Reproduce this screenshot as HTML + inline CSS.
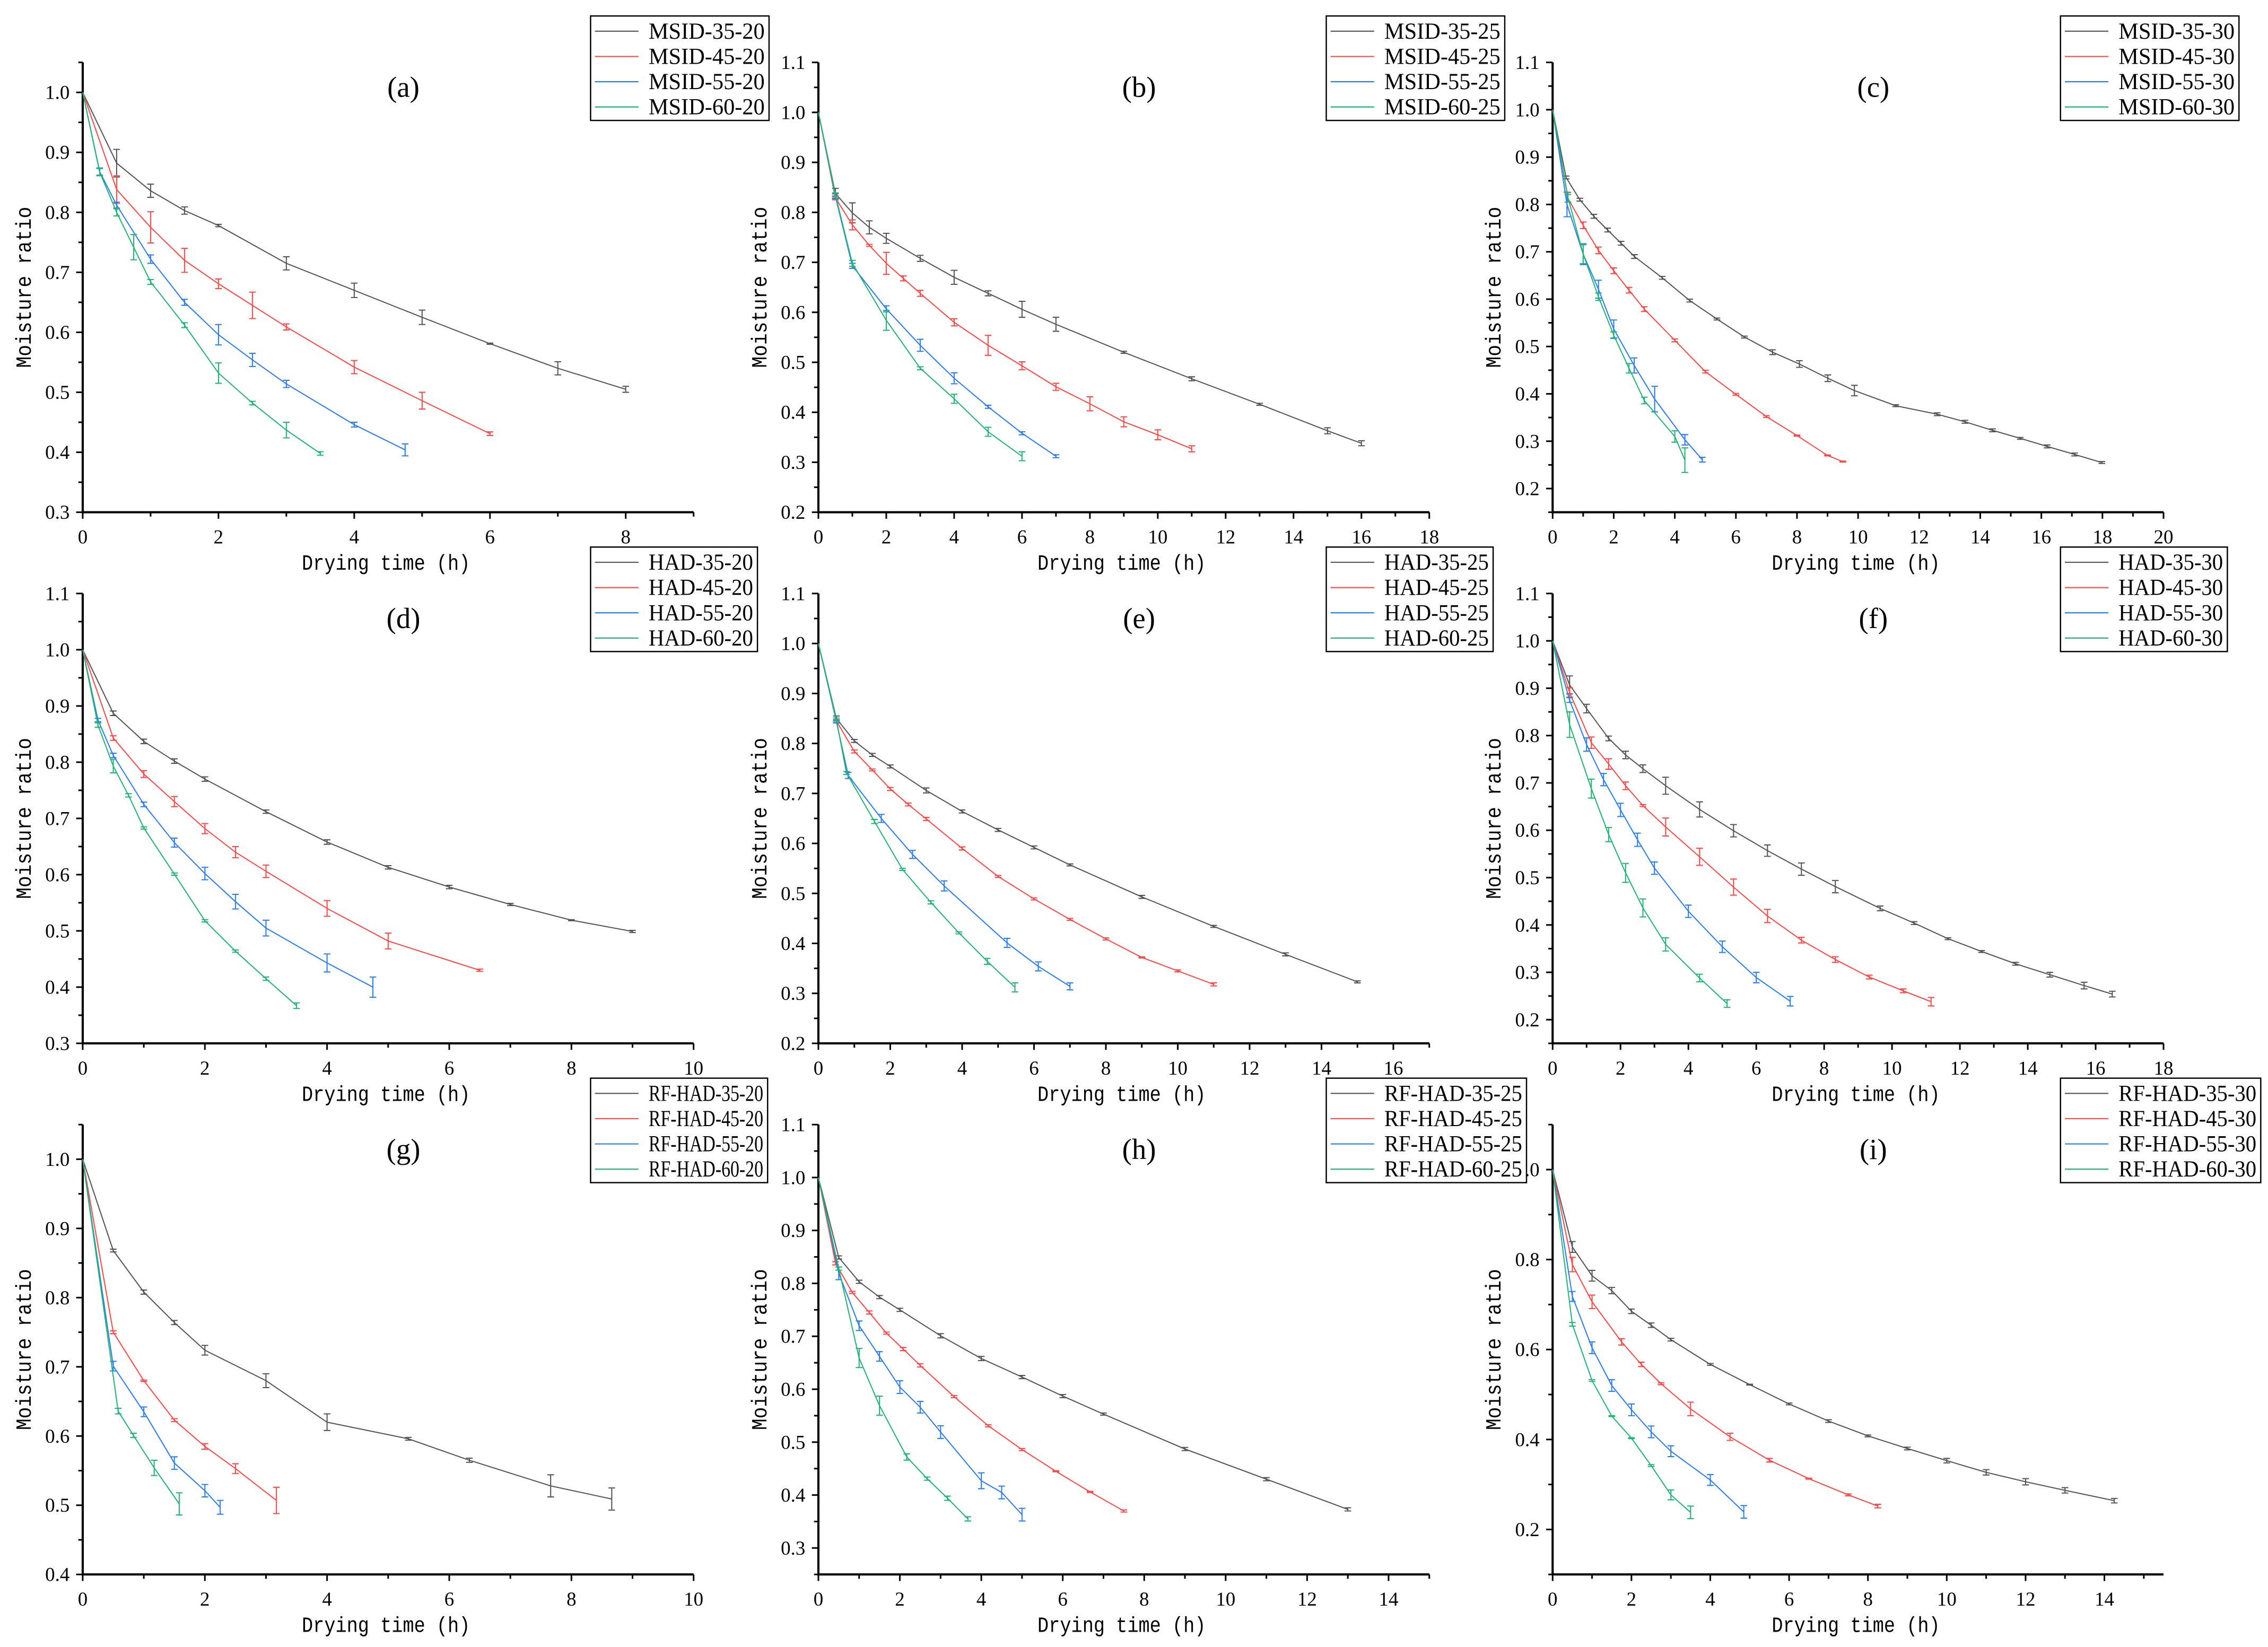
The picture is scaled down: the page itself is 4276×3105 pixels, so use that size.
<!DOCTYPE html>
<html><head><meta charset="utf-8">
<style>
html,body{margin:0;padding:0;background:#fff;}
svg{display:block;}
text{font-family:"Liberation Serif","Noto Serif CJK SC",serif;fill:#000;}
text.mono{font-family:"Liberation Mono","Noto Sans CJK SC",monospace;}
</style></head>
<body>
<svg id="chart" xmlns="http://www.w3.org/2000/svg" width="4276" height="3105" viewBox="0 0 1563 1135" preserveAspectRatio="none">
<rect x="0" y="0" width="1563" height="1135" fill="#fff"/>
</svg>
<script>
// ---- data (drying time h, moisture ratio, error half-width) ----
const aTime=[[0,0.5,1,1.5,2,3,4,5,6,7,8],[0,0.5,1,1.5,2,2.5,3,4,5,6],[0,0.25,0.5,1,1.5,2,2.5,3,4,4.75],[0,0.25,0.5,0.75,1,1.5,2,2.5,3,3.5]];
const aMR=[[1,0.882,0.836,0.803,0.778,0.715,0.67,0.625,0.581,0.54,0.505],[1,0.838,0.775,0.72,0.681,0.645,0.609,0.542,0.486,0.431],[1,0.868,0.812,0.722,0.65,0.596,0.554,0.514,0.446,0.404],[1,0.867,0.8,0.742,0.684,0.612,0.532,0.482,0.437,0.398]];
const aErr=[[0,.023,.011,.006,.002,.011,.012,.012,.001,.011,.005],[0,.023,.026,.02,.008,.022,.005,.011,.014,.003],[0,.006,.005,.007,.005,.017,.011,.006,.004,.01],[0,.006,.006,.021,.004,.004,.017,.003,.013,.003]];

const bTime=[[0,0.5,1,1.5,2,3,4,5,6,7,9,11,13,15,16],[0,0.5,1,1.5,2,2.5,3,4,5,6,7,8,9,10,11],[0,0.5,1,2,3,4,5,6,7],[0,0.5,1,2,3,4,5,6]];
const bMR=[[1,0.838,0.799,0.770,0.748,0.708,0.670,0.638,0.606,0.576,0.52,0.467,0.416,0.363,0.338],[1,0.829,0.775,0.734,0.698,0.668,0.638,0.580,0.534,0.493,0.451,0.417,0.381,0.355,0.327],[1,0.832,0.693,0.607,0.534,0.468,0.411,0.358,0.312],[1,0.835,0.698,0.584,0.488,0.427,0.361,0.312]];
const bErr=[[0,.01,.02,.013,.01,.006,.014,.005,.016,.014,.002,.004,.002,.006,.005],[0,.004,.01,.002,.022,.005,.006,.007,.02,.008,.007,.014,.01,.01,.006],[0,.005,.005,.006,.012,.011,.003,.003,.003],[0,.004,.006,.02,.003,.009,.009,.009]];

const cTime=[[0,0.44,0.89,1.35,1.8,2.24,2.68,3.59,4.49,5.38,6.28,7.2,8.08,9.01,9.88,11.23,12.59,13.5,14.4,15.31,16.19,17.09,17.98],[0,0.5,1,1.5,2,2.5,3,4,5,6,7,8,9,9.5],[0,0.47,1,1.5,2,2.67,3.34,4.33,4.9],[0,0.5,1,1.5,2,2.5,3,4,4.33]];
const cMR=[[1,0.857,0.81,0.775,0.746,0.718,0.69,0.645,0.597,0.558,0.52,0.488,0.463,0.433,0.407,0.375,0.357,0.341,0.323,0.306,0.289,0.272,0.255],[1,0.813,0.756,0.703,0.66,0.619,0.579,0.513,0.447,0.399,0.352,0.312,0.27,0.257],[1,0.80,0.695,0.621,0.537,0.46,0.389,0.303,0.261],[1,0.815,0.695,0.605,0.524,0.454,0.386,0.31,0.26]];
const cErr=[[0,.003,.003,.004,.004,.004,.004,.003,.003,.002,.002,.005,.007,.007,.011,.002,.003,.003,.003,.002,.003,.003,.002],[0,.008,.007,.007,.006,.006,.005,.003,.003,.002,.002,.001,.001,.001],[0,.026,.022,.019,.019,.016,.027,.011,.005],[0,.01,.02,.008,.007,.01,.007,.012,.026]];

const dTime=[[0,0.5,1,1.5,2,3,4,5,6,7,8,9],[0,0.5,1,1.5,2,2.5,3,4,5,6.5],[0,0.25,0.5,1,1.5,2,2.5,3,4,4.75],[0,0.25,0.5,0.75,1,1.5,2,2.5,3,3.5]];
const dMR=[[1,0.887,0.837,0.802,0.77,0.712,0.658,0.613,0.578,0.547,0.519,0.499],[1,0.843,0.779,0.73,0.682,0.64,0.606,0.54,0.482,0.43],[1,0.875,0.812,0.725,0.657,0.602,0.552,0.505,0.443,0.40],[1,0.866,0.793,0.741,0.683,0.601,0.518,0.464,0.415,0.367]];
const dErr=[[0,.004,.004,.004,.004,.003,.004,.003,.003,.002,.001,.002],[0,.004,.006,.009,.009,.01,.011,.014,.014,.002],[0,.003,.004,.004,.008,.011,.013,.014,.016,.018],[0,.004,.012,.003,.002,.002,.002,.002,.003,.005]];

const eTime=[[0,0.5,1,1.5,2,3,4,5,6,7,9,11,13,15],[0,0.5,1,1.5,2,2.5,3,4,5,6,7,8,9,10,11],[0,0.5,0.83,1.75,2.62,3.5,5.25,6.12,7],[0,0.5,0.78,1.56,2.34,3.13,3.91,4.7,5.47]];
const eMR=[[1,0.85,0.805,0.777,0.754,0.706,0.664,0.627,0.592,0.557,0.493,0.434,0.378,0.323],[1,0.845,0.784,0.747,0.709,0.678,0.649,0.59,0.534,0.489,0.448,0.409,0.372,0.345,0.318],[1,0.844,0.736,0.65,0.578,0.515,0.401,0.354,0.314],[1,0.848,0.741,0.644,0.548,0.482,0.421,0.364,0.312]];
const eErr=[[0,.005,.003,.003,.003,.005,.003,.003,.003,.002,.003,.002,.003,.002],[0,.003,.003,.002,.003,.003,.003,.003,.002,.002,.002,.002,.001,.002,.003],[0,.003,.006,.008,.008,.01,.009,.009,.007],[0,.003,.003,.004,.002,.003,.002,.006,.009]];

const fTime=[[0,0.5,1,1.65,2.15,2.66,3.33,4.33,5.33,6.33,7.33,8.33,9.65,10.65,11.65,12.64,13.64,14.65,15.66,16.49],[0,0.5,1.14,1.65,2.15,2.66,3.33,4.33,5.33,6.33,7.33,8.33,9.33,10.33,11.15],[0,0.5,1,1.5,2,2.5,3,4,5,6,7],[0,0.5,1.14,1.65,2.15,2.66,3.33,4.33,5.14]];
const fMR=[[1,0.907,0.857,0.794,0.759,0.730,0.694,0.644,0.599,0.557,0.518,0.481,0.435,0.404,0.371,0.344,0.318,0.295,0.272,0.254],[1,0.891,0.785,0.740,0.694,0.652,0.607,0.544,0.48,0.419,0.368,0.327,0.29,0.261,0.238],[1,0.875,0.781,0.707,0.643,0.58,0.52,0.429,0.354,0.289,0.239],[1,0.823,0.688,0.591,0.51,0.436,0.359,0.288,0.234]];
const fErr=[[0,.019,.009,.005,.008,.008,.018,.016,.013,.012,.013,.013,.005,.003,.002,.002,.003,.005,.007,.006],[0,.01,.012,.011,.008,.002,.019,.018,.017,.014,.006,.006,.004,.004,.009],[0,.005,.014,.013,.014,.014,.013,.013,.012,.011,.01],[0,.027,.02,.015,.02,.019,.014,.008,.008]];

const gTime=[[0,0.5,1,1.5,2,3,4,5.33,6.33,7.66,8.66],[0,0.5,1,1.5,2,2.5,3.17],[0,0.5,1,1.5,2,2.25],[0,0.58,0.83,1.17,1.58]];
const gMR=[[1,0.868,0.808,0.764,0.724,0.68,0.62,0.596,0.565,0.528,0.509],[1,0.75,0.68,0.623,0.585,0.553,0.507],[1,0.701,0.635,0.561,0.521,0.497],[1,0.636,0.601,0.554,0.502]];
const gErr=[[0,.002,.003,.003,.007,.01,.012,.002,.003,.016,.016],[0,.002,.001,.002,.004,.007,.019],[0,.007,.007,.009,.009,.01],[0,.004,.003,.011,.016]];

const hTime=[[0,0.5,1,1.5,2,3,4,5,6,7,9,11,13],[0,0.42,0.83,1.25,1.67,2.08,2.5,3.33,4.17,5,5.83,6.67,7.5],[0,0.5,1,1.5,2,2.5,3,4,4.5,5],[0,0.5,1,1.5,2.17,2.67,3.17,3.67]];
const hMR=[[1,0.849,0.803,0.774,0.75,0.701,0.658,0.623,0.587,0.553,0.487,0.43,0.373],[1,0.838,0.783,0.745,0.706,0.676,0.645,0.586,0.531,0.486,0.445,0.406,0.37],[1,0.819,0.72,0.662,0.604,0.566,0.519,0.427,0.405,0.363],[1,0.828,0.659,0.569,0.472,0.431,0.394,0.355]];
const hErr=[[0,.003,.003,.003,.003,.004,.004,.003,.003,.002,.003,.003,.003],[0,.003,.002,.003,.002,.003,.003,.002,.002,.002,.001,.001,.002],[0,.012,.009,.009,.012,.011,.012,.015,.012,.012],[0,.003,.018,.018,.006,.003,.004,.004]];

const iTime=[[0,0.5,1,1.5,2,2.5,3,4,5,6,7,8,9,10,11,12,13,14.25],[0,0.5,1,1.75,2.25,2.75,3.5,4.5,5.5,6.5,7.5,8.25],[0,0.5,1,1.5,2,2.5,3,4,4.85],[0,0.5,1,1.5,2,2.5,3,3.5]];
const iMR=[[1,0.828,0.764,0.731,0.685,0.654,0.622,0.567,0.522,0.479,0.441,0.408,0.38,0.353,0.327,0.306,0.287,0.264],[1,0.789,0.706,0.617,0.567,0.524,0.468,0.406,0.354,0.313,0.277,0.252],[1,0.718,0.604,0.52,0.466,0.417,0.374,0.31,0.239],[1,0.656,0.531,0.452,0.403,0.342,0.277,0.238]];
const iErr=[[0,.012,.012,.007,.005,.005,.003,.002,.001,.002,.003,.002,.003,.005,.006,.007,.006,.005],[0,.016,.015,.007,.005,.002,.015,.008,.004,.001,.002,.004],[0,.011,.013,.013,.013,.013,.012,.012,.014],[0,.004,.002,.001,.001,.002,.011,.014]];

const temps=['35','45','55','60'];
const colors=['#555555','#ff4848','#2a7ef0','#22b574'];
const NS='http://www.w3.org/2000/svg';
const svg=document.getElementById('chart');
function mk(tag,attrs,parent){const e=document.createElementNS(NS,tag);for(const k in attrs)e.setAttribute(k,attrs[k]);(parent||svg).appendChild(e);return e;}

const W=421,H=310;
const panels=[
 {id:'a',x0:57,y0:43,xmax:9,xlab:8,ymin:.3,ymax:1.05,ystep:.1,yminor:.05,ylo:.3,yhi:1.0,t:aTime,m:aMR,e:aErr,pre:'MSID-',suf:'-20',lw:123},
 {id:'b',x0:564,y0:43,xmax:18,xlab:18,ymin:.2,ymax:1.1,ystep:.1,yminor:.05,ylo:.2,yhi:1.1,t:bTime,m:bMR,e:bErr,pre:'MSID-',suf:'-25',lw:123},
 {id:'c',x0:1070,y0:43,xmax:20,xlab:20,ymin:.15,ymax:1.1,ystep:.1,yminor:.05,ylo:.2,yhi:1.1,t:cTime,m:cMR,e:cErr,pre:'MSID-',suf:'-30',lw:123},
 {id:'d',x0:57,y0:409,xmax:10,xlab:10,ymin:.3,ymax:1.1,ystep:.1,yminor:.05,ylo:.3,yhi:1.1,t:dTime,m:dMR,e:dErr,pre:'HAD-',suf:'-20',lw:115},
 {id:'e',x0:564,y0:409,xmax:17,xlab:16,ymin:.2,ymax:1.1,ystep:.1,yminor:.05,ylo:.2,yhi:1.1,t:eTime,m:eMR,e:eErr,pre:'HAD-',suf:'-25',lw:115},
 {id:'f',x0:1070,y0:409,xmax:18,xlab:18,ymin:.15,ymax:1.1,ystep:.1,yminor:.05,ylo:.2,yhi:1.1,t:fTime,m:fMR,e:fErr,pre:'HAD-',suf:'-30',lw:115},
 {id:'g',x0:57,y0:775,xmax:10,xlab:10,ymin:.4,ymax:1.05,ystep:.1,yminor:.05,ylo:.4,yhi:1.0,t:gTime,m:gMR,e:gErr,pre:'RF-HAD-',suf:'-20',lw:122},
 {id:'h',x0:564,y0:775,xmax:15,xlab:14,ymin:.25,ymax:1.1,ystep:.1,yminor:.05,ylo:.3,yhi:1.1,t:hTime,m:hMR,e:hErr,pre:'RF-HAD-',suf:'-25',lw:138},
 {id:'i',x0:1070,y0:775,xmax:15.5,xlab:14,ymin:.1,ymax:1.1,ystep:.2,yminor:.1,ylo:.2,yhi:1.0,t:iTime,m:iMR,e:iErr,pre:'RF-HAD-',suf:'-30',lw:138}
];

const legendLayer=[];
panels.forEach(p=>{
  const g=mk('g',{});
  
  
  const sx=v=>p.x0+v/p.xmax*W;
  const sy=v=>p.y0+(p.ymax-v)/(p.ymax-p.ymin)*H;
  const yb=p.y0+H;
  for(let v=0;v<=p.xmax+1e-9;v+=1){
    const major=(Math.round(v)%2===0);
    const t=mk('line',{x1:sx(v),x2:sx(v),y1:yb,y2:yb+(major?4.5:3),stroke:'#000','stroke-width':1.1},g);
    
    
    if(major&&v<=p.xlab){
      const tx=mk('text',{x:sx(v),y:yb+17,'font-size':13.5,'text-anchor':'middle','dominant-baseline':'central'},g);
      tx.textContent=String(v);
      
      
    }
  }
  const n=Math.round((p.ymax-p.ymin)/p.yminor);
  for(let k=0;k<=n;k++){
    const v=Math.round((p.ymin+k*p.yminor)*1000)/1000;
    const r=v/p.ystep;const major=Math.abs(r-Math.round(r))<1e-6;
    const t=mk('line',{x1:p.x0,x2:p.x0-(major?4.5:3),y1:sy(v),y2:sy(v),stroke:'#000','stroke-width':1.1},g);
    
    
    if(major&&v>=p.ylo-1e-6&&v<=p.yhi+1e-6){
      const tx=mk('text',{x:p.x0-9,y:sy(v),'font-size':13.5,'text-anchor':'end','dominant-baseline':'central'},g);
      tx.textContent=v.toFixed(1);
      
      
    }
  }
  const ax=mk('path',{d:`M${p.x0},${p.y0}V${yb}H${p.x0+W}`,fill:'none',stroke:'#000','stroke-width':1.5},g);
  
  
  const xt=mk('text',{class:'mono',x:p.x0+209,y:yb+36,'font-size':15,'text-anchor':'middle','dominant-baseline':'central',textLength:116,lengthAdjust:'spacingAndGlyphs'},g);
  xt.textContent='Drying time (h)';
  
  
  const yx=p.x0-39.5, yy=p.y0+H/2;
  const yt=mk('text',{class:'mono',x:yx,y:yy,'font-size':15,'text-anchor':'middle','dominant-baseline':'central',textLength:111,lengthAdjust:'spacingAndGlyphs',transform:`rotate(-90 ${yx} ${yy})`},g);
  yt.textContent='Moisture ratio';
  
  
  const pl=mk('text',{x:p.x0+221,y:p.y0+17,'font-size':20,'text-anchor':'middle','dominant-baseline':'central'},g);
  pl.textContent='('+p.id+')';
  
  
  for(let s=0;s<4;s++){
    const xs=p.t[s], ys=p.m[s], es=p.e[s];
    const sg=mk('g',{},g);
    
    
    const pts=xs.map((x,i)=>sx(x).toFixed(2)+','+sy(ys[i]).toFixed(2)).join(' ');
    const ln=mk('polyline',{points:pts,fill:'none',stroke:colors[s],'stroke-width':0.75},sg);
    
    
    xs.forEach((x,i)=>{
      if(es[i]<=0)return;
      const cx=sx(x), y1=sy(ys[i]+es[i]), y2=sy(ys[i]-es[i]);
      const eb=mk('path',{d:`M${cx},${y1}V${y2}M${cx-2.3},${y1}H${cx+2.3}M${cx-2.3},${y2}H${cx+2.3}`,fill:'none',stroke:colors[s],'stroke-width':0.75},sg);
      
      
    });
  }
  legendLayer.push(p);
});
legendLayer.forEach(p=>{
  const lx=p.x0+350, ly=p.y0-32;
  const g=mk('g',{});
  
  
  mk('rect',{x:lx,y:ly,width:p.lw,height:72,fill:'#fff',stroke:'#000','stroke-width':0.9},g);
  for(let s=0;s<4;s++){
    const cy=ly+10.5+s*17.4;
    const eg=mk('g',{},g);
    
    
    mk('line',{x1:lx+3,x2:lx+33,y1:cy,y2:cy,stroke:colors[s],'stroke-width':0.8},eg);
    const t=mk('text',{x:lx+40,y:cy,'font-size':16,'dominant-baseline':'central',textLength:p.lw-43,lengthAdjust:'spacingAndGlyphs'},eg);
    t.textContent=p.pre+temps[s]+p.suf;
  }
});
</script>
</body></html>
